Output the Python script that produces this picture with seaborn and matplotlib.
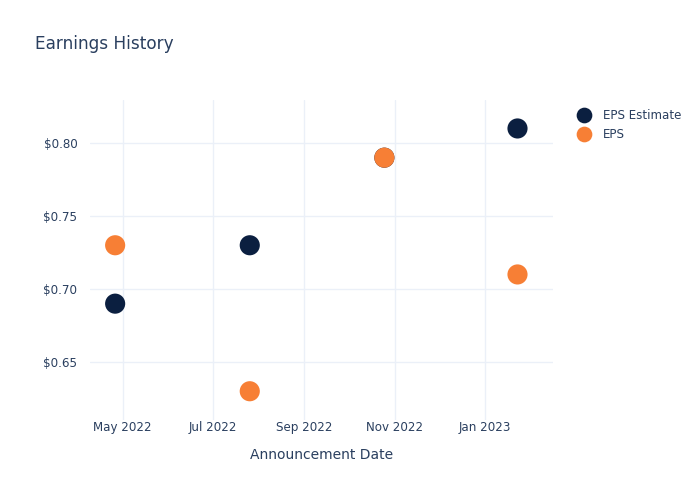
import matplotlib
matplotlib.use("Agg")
import matplotlib.pyplot as plt
import matplotlib.dates as mdates
import seaborn as sns
import pandas as pd
import numpy as np

dates = ["2022-04-26", "2022-07-26", "2022-10-25", "2023-01-23"]
eps_estimate = [0.69, 0.73, 0.79, 0.81]
eps_actual = [0.73, 0.63, 0.79, 0.71]

df = pd.DataFrame({
    "date": pd.to_datetime(dates * 2),
    "value": eps_estimate + eps_actual,
    "series": ["EPS Estimate"] * 4 + ["EPS"] * 4,
})

sns.set_theme(style="white")
plt.rcParams["font.family"] = ["DejaVu Sans"]
text_color = "#2a3f5f"
grid_color = "#ebf0f8"

fig = plt.figure(figsize=(7, 5), dpi=100)
ax = fig.add_axes([90 / 700, 1 - 420 / 500, (553 - 90) / 700, (420 - 100) / 500])

sns.scatterplot(data=df, x="date", y="value", hue="series",
                palette={"EPS Estimate": "#0b1f40", "EPS": "#f77f35"},
                s=210, linewidth=0, ax=ax, legend=True, zorder=3)

ax.set_xlim(pd.Timestamp("2022-04-09"), pd.Timestamp("2023-02-16"))
ax.set_ylim(0.6103, 0.8295)

ax.xaxis.set_major_locator(mdates.MonthLocator(bymonth=[1, 3, 5, 7, 9, 11]))
ax.xaxis.set_major_formatter(mdates.DateFormatter("%b %Y"))
ax.set_yticks([0.65, 0.70, 0.75, 0.80])
ax.set_yticklabels(["$0.65", "$0.70", "$0.75", "$0.80"])

ax.grid(True, color=grid_color, linewidth=1)
ax.set_axisbelow(True)
for sp in ax.spines.values():
    sp.set_visible(False)
ax.tick_params(axis="y", colors=grid_color, labelcolor=text_color,
               labelsize=8.6, length=7, width=1, pad=2)
ax.tick_params(axis="x", colors=grid_color, labelcolor=text_color,
               labelsize=8.6, length=0, width=1, pad=1)

ax.set_xlabel("Announcement Date", color=text_color, fontsize=10, labelpad=10)
ax.set_ylabel("")

fig.text(35 / 700, 1 - 44 / 500, "Earnings History", color=text_color,
         fontsize=12.2, va="center", ha="left")

handles, labels = ax.get_legend_handles_labels()
leg = ax.legend(handles, labels, loc="upper left", bbox_to_anchor=(572 / 700, 1 - 104 / 500),
                bbox_transform=fig.transFigure, frameon=False, fontsize=8.6,
                labelcolor=text_color, handletextpad=1.0, labelspacing=0.55,
                markerscale=0.78, borderaxespad=0, handlelength=1.2)

fig.savefig("out.png", dpi=100)
